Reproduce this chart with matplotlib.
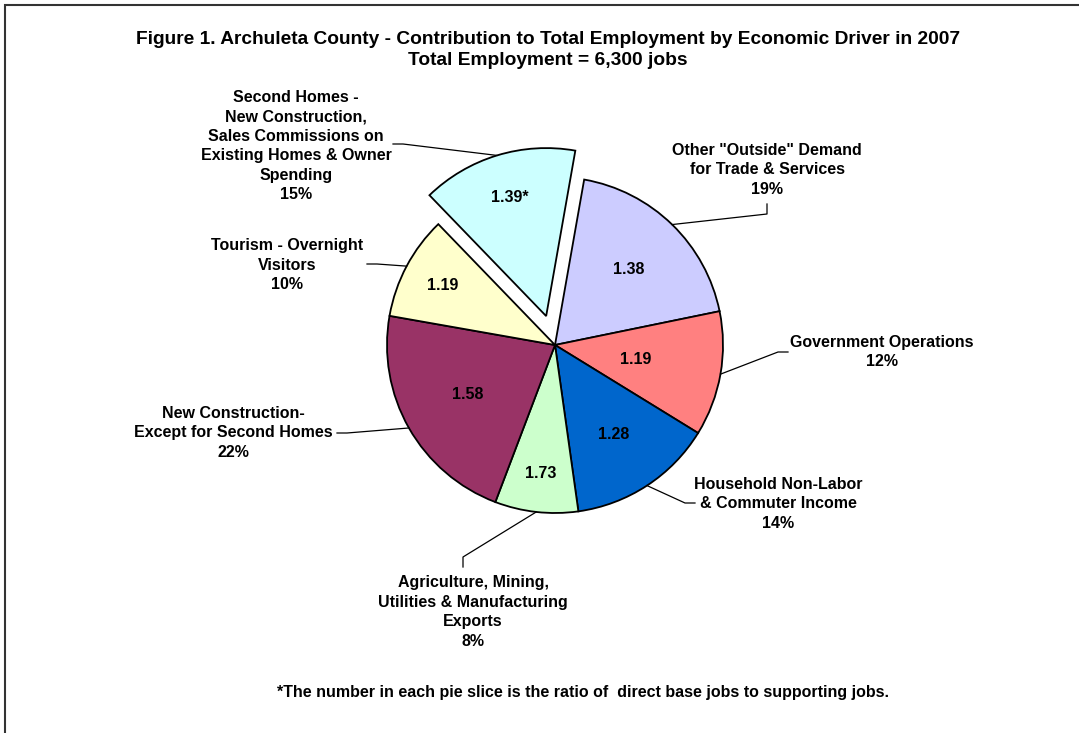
"""
Archuleta County - вклад в занятость по экономическим драйверам (2007)
Круговая диаграмма с выносками, пиксельная раскладка под 1079x733
"""

import numpy as np
import matplotlib.pyplot as plt
from matplotlib.patches import Rectangle

# Данные
categories = [
    'Other "Outside" Demand\nfor Trade & Services',
    'Government Operations',
    'Household Non-Labor\n& Commuter Income',
    'Agriculture, Mining,\nUtilities & Manufacturing\nExports',
    'New Construction-\nExcept for Second Homes',
    'Tourism - Overnight\nVisitors',
    'Second Homes -\nNew Construction,\nSales Commissions on\nExisting Homes & Owner\nSpending',
]
shares = [19, 12, 14, 8, 22, 10, 15]
ratios = ['1.38', '1.19', '1.28', '1.73', '1.58', '1.19', '1.39*']
colors = ['#CCCCFF', '#FF8080', '#0066CC', '#CCFFCC', '#993366', '#FFFFCC', '#CCFFFF']

W, H = 1079, 733
R = 168
# смещение выдвинутого сектора (в пикселях, pie считает его в единицах данных)
explode = [0, 0, 0, 0, 0, 0, 0.18 * R]


def Y(y):
    # пиксели картинки (сверху вниз) -> координаты осей (снизу вверх)
    return H - y


# Раскладка подписей (пиксели картинки)
label_pos = [(767, 170), (882, 352), (778, 504), (473, 612),
             (233, 433), (287, 265), (296, 146)]
stubs = [((767, 204), (767, 214)), ((788, 352), (778, 352)),
         ((695, 503), (685, 503)), ((463, 567), (463, 557)),
         ((337, 433), (347, 433)), ((367, 264), (377, 264)),
         ((393, 144), (403, 144))]
inner_r = [0.63, 0.49, 0.64, 0.77, 0.60, 0.76, 0.74]

plt.rcParams['font.family'] = ['Liberation Sans', 'DejaVu Sans']
plt.rcParams['font.weight'] = 'bold'

fig = plt.figure(figsize=(W / 100, H / 100), dpi=100)
ax = fig.add_axes([0, 0, 1, 1])

wedges, _ = ax.pie(shares, colors=colors, explode=explode, startangle=80,
                   counterclock=False, center=(555, Y(345)), radius=R,
                   wedgeprops=dict(edgecolor='black', linewidth=1.3))

ax.set_xlim(0, W)
ax.set_ylim(0, H)
ax.set_aspect('equal')
ax.axis('off')

for i, w in enumerate(wedges):
    mid = np.deg2rad((w.theta1 + w.theta2) / 2)
    cx, cy = w.center
    # число в секторе
    ax.text(cx + inner_r[i] * w.r * np.cos(mid), cy + inner_r[i] * w.r * np.sin(mid),
            ratios[i], ha='center', va='center', fontsize=11.5, fontweight='bold')
    # выноска: край сектора -> короткий отрезок -> подпись
    ex, ey = cx + w.r * np.cos(mid), cy + w.r * np.sin(mid)
    (x0, y0), (x1, y1) = stubs[i]
    ax.plot([x0, x1, ex], [Y(y0), Y(y1), ey], color='black', linewidth=0.9)
    lx, ly = label_pos[i]
    ax.text(lx, Y(ly), f'{categories[i]}\n{shares[i]}%', ha='center', va='center',
            fontsize=11.5, fontweight='bold', linespacing=1.37)

ax.text(548, Y(50), 'Figure 1. Archuleta County - Contribution to Total Employment '
        'by Economic Driver in 2007\nTotal Employment = 6,300 jobs',
        ha='center', va='center', fontsize=13.8, fontweight='bold', linespacing=1.32)

ax.text(583, Y(692), '*The number in each pie slice is the ratio of  direct base jobs '
        'to supporting jobs.', ha='center', va='center', fontsize=11.5, fontweight='bold')

# рамка вокруг диаграммы
ax.add_patch(Rectangle((5, Y(800)), 1200, 795, fill=False, edgecolor='#333333',
                       linewidth=1.5))

plt.savefig('out.png', dpi=100)
plt.close()
